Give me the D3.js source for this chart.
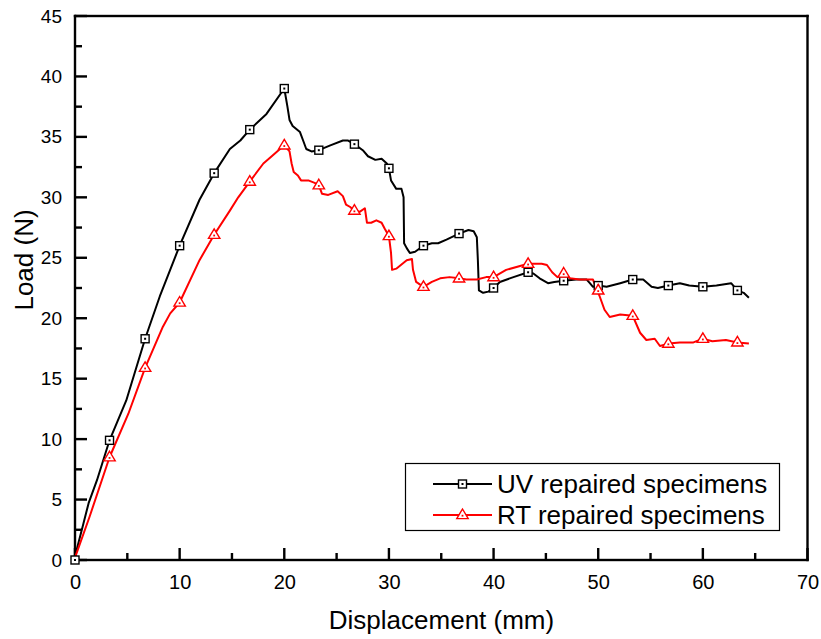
<!DOCTYPE html>
<html>
<head>
<meta charset="utf-8">
<script src="https://cdn.jsdelivr.net/npm/d3@7"></script>
<style>
  body { margin: 0; background: #fff; }
  svg { display: block; font-family: Arial, "Liberation Sans", sans-serif; }
</style>
</head>
<body>
<div id="chart"></div>
<script>
// UV repaired specimens, full curve
const uvX = [0, 0.8, 1.3, 2.1, 3.3, 4.9, 6.7, 8.1, 10.0, 11.9, 13.3, 14.8, 15.8, 16.7, 18.3, 20.0,
  20.3, 20.5, 20.8, 21.5, 21.8, 22.1, 22.6, 23.3, 24.4, 25.6, 26.1, 26.7, 27.5, 28.0, 28.7, 29.3,
  29.8, 30.0, 30.2, 30.7, 31.2, 31.4, 31.45, 31.7, 32.0, 32.5, 33.3, 34.1, 34.7, 35.5, 36.7, 37.6,
  38.1, 38.4, 38.5, 38.6, 39.0, 39.5, 40.0, 40.6, 41.9, 43.3, 43.8, 44.4, 45.2, 45.8, 46.7, 47.9,
  48.9, 49.2, 49.5, 50.0, 50.8, 52.1, 53.3, 54.3, 55.1, 55.7, 56.7, 57.8, 58.7, 60.0, 61.3, 62.7,
  63.3, 63.9, 64.4];
const uvY = [0.3, 3.0, 4.7, 6.6, 9.9, 13.2, 18.3, 21.8, 26.0, 29.8, 32.0, 34.0, 34.7, 35.6, 36.9, 39.0,
  37.5, 36.4, 35.9, 35.4, 34.7, 34.0, 33.8, 33.9, 34.3, 34.7, 34.7, 34.4, 33.9, 33.4, 33.1, 33.2,
  32.8, 32.4, 31.4, 30.7, 30.7, 30.0, 26.2, 25.8, 25.4, 25.5, 26.0, 26.2, 26.2, 26.5, 27.0, 27.3,
  27.2, 26.7, 24.8, 22.3, 22.1, 22.2, 22.5, 23.0, 23.4, 23.8, 23.7, 23.3, 22.9, 23.0, 23.1, 23.2,
  23.2, 22.9, 22.6, 22.7, 22.6, 22.9, 23.2, 23.2, 22.6, 22.5, 22.7, 22.9, 22.7, 22.6, 22.7, 22.9,
  22.3, 22.1, 21.7];

// RT repaired specimens, full curve
const rtX = [0, 1.4, 3.3, 5.1, 6.7, 8.4, 9.1, 10.0, 11.9, 13.3, 14.8, 15.6, 16.7, 18.0, 18.8, 20.0,
  20.5, 20.7, 20.9, 21.3, 21.6, 22.3, 22.9, 23.3, 23.6, 24.2, 25.1, 25.6, 25.9, 26.3, 26.7, 27.2,
  27.7, 27.9, 28.3, 28.8, 29.3, 29.6, 30.0, 30.2, 30.3, 30.7, 31.7, 32.2, 32.3, 32.6, 33.3, 34.1,
  34.9, 35.8, 36.7, 37.4, 38.4, 39.3, 40.0, 41.2, 43.3, 44.6, 45.1, 45.6, 46.1, 46.7, 47.3, 48.2,
  49.5, 49.9, 50.1, 50.6, 51.1, 52.1, 53.3, 54.0, 54.6, 55.4, 55.9, 56.7, 57.8, 59.1, 60.0, 60.9,
  62.2, 63.3, 64.4];
const rtY = [0.2, 3.6, 8.5, 12.1, 15.9, 19.3, 20.4, 21.3, 24.8, 26.9, 28.9, 30.0, 31.3, 32.8, 33.4, 34.3,
  33.8, 32.8, 32.1, 31.8, 31.4, 31.4, 31.2, 31.0, 30.3, 30.2, 30.5, 30.1, 29.4, 29.2, 28.9, 28.8,
  29.1, 27.9, 27.9, 28.1, 27.9, 27.4, 26.8, 25.4, 24.0, 24.1, 24.8, 24.9, 24.0, 23.0, 22.6, 23.0,
  23.3, 23.4, 23.3, 23.2, 23.2, 23.4, 23.4, 24.0, 24.5, 24.5, 24.4, 23.8, 23.4, 23.7, 23.3, 23.2,
  23.2, 22.3, 21.9, 20.7, 20.1, 20.3, 20.2, 18.8, 18.2, 18.3, 17.7, 17.9, 18.0, 18.0, 18.3, 18.1,
  18.2, 18.0, 17.9];

// symbol positions
const markX = [0, 3.3, 6.7, 10, 13.3, 16.7, 20, 23.3, 26.7, 30, 33.3, 36.7, 40, 43.3, 46.7, 50, 53.3, 56.7, 60, 63.3];
const uvMarkY = [0, 9.9, 18.3, 26.0, 32.0, 35.6, 39.0, 33.9, 34.4, 32.4, 26.0, 27.0, 22.5, 23.8, 23.1, 22.7, 23.2, 22.7, 22.6, 22.3];
const rtMarkY = [null, 8.5, 15.9, 21.3, 26.9, 31.3, 34.3, 31.0, 28.9, 26.8, 22.6, 23.3, 23.4, 24.5, 23.7, 22.3, 20.2, 17.9, 18.3, 18.0];

const xTicks = [0, 10, 20, 30, 40, 50, 60, 70];
const yTicks = [0, 5, 10, 15, 20, 25, 30, 35, 40, 45];
const seriesNames = ['UV repaired specimens', 'RT repaired specimens'];

const width = 821, height = 639;
const margin = { left: 75, right: 13.5, top: 16, bottom: 79 };

const svg = d3.select('#chart').append('svg')
  .attr('width', width)
  .attr('height', height);

const x = d3.scaleLinear().domain([0, 70]).range([margin.left, width - margin.right]);
const y = d3.scaleLinear().domain([0, 45]).range([height - margin.bottom, margin.top]);

const zip = (xs, ys) => xs.map((v, i) => [v, ys[i]]);
const line = d3.line().x(d => x(d[0])).y(d => y(d[1]));

// axis labels
const gx = svg.append('g').attr('transform', `translate(0,${y(0)})`)
  .call(d3.axisBottom(x).tickValues(xTicks).tickSize(0).tickPadding(15).tickFormat(d3.format('d')));
gx.select('.domain').remove();
gx.selectAll('.tick text').attr('font-size', 20).attr('fill', '#000');

const gy = svg.append('g').attr('transform', `translate(${x(0)},0)`)
  .call(d3.axisLeft(y).tickValues(yTicks).tickSize(0).tickPadding(13).tickFormat(d3.format('d')));
gy.select('.domain').remove();
gy.selectAll('.tick text').attr('font-size', 19).attr('fill', '#000');

// frame and inward ticks, drawn as solid bars
const lw = 2.4;
const x0 = x(0), x1 = x(70), y0 = y(0), y1 = y(45);
const bars = svg.append('g').attr('fill', '#000');
bars.append('rect').attr('x', x0 - lw / 2).attr('y', y1 - lw / 2).attr('width', x1 - x0 + lw).attr('height', lw);
bars.append('rect').attr('x', x0 - lw / 2).attr('y', y0 - lw / 2).attr('width', x1 - x0 + lw).attr('height', lw);
bars.append('rect').attr('x', x0 - lw / 2).attr('y', y1 - lw / 2).attr('width', lw).attr('height', y0 - y1 + lw);
bars.append('rect').attr('x', x1 - lw / 2).attr('y', y1 - lw / 2).attr('width', lw).attr('height', y0 - y1 + lw);
bars.selectAll('.xt').data(d3.range(0, 71, 5)).join('rect').attr('class', 'xt')
  .attr('x', d => x(d) - lw / 2).attr('width', lw)
  .attr('y', d => y0 - (d % 10 === 0 ? 12 : 7)).attr('height', d => (d % 10 === 0 ? 12 : 7));
bars.selectAll('.yt').data(d3.range(0, 45.1, 2.5)).join('rect').attr('class', 'yt')
  .attr('y', d => y(d) - lw / 2).attr('height', lw)
  .attr('x', x0).attr('width', d => (d % 5 === 0 ? 12 : 7));

// curves
svg.append('path').datum(zip(uvX, uvY))
  .attr('d', line).attr('fill', 'none').attr('stroke', '#000').attr('stroke-width', 2)
  .attr('stroke-linejoin', 'round');
svg.append('path').datum(zip(rtX, rtY))
  .attr('d', line).attr('fill', 'none').attr('stroke', '#ff0000').attr('stroke-width', 2)
  .attr('stroke-linejoin', 'round');

function square(g, cx, cy) {
  g.append('rect').attr('x', cx - 4).attr('y', cy - 4).attr('width', 8).attr('height', 8)
    .attr('fill', '#fff').attr('stroke', '#000').attr('stroke-width', 1.4);
  g.append('rect').attr('x', cx - 1).attr('y', cy - 1).attr('width', 2).attr('height', 2).attr('fill', '#000');
}
function triangle(g, cx, cy) {
  const s = 6;
  g.append('path')
    .attr('d', `M${cx},${cy - s}L${cx + s * 0.95},${cy + s * 0.6}L${cx - s * 0.95},${cy + s * 0.6}Z`)
    .attr('fill', '#fff').attr('stroke', '#ff0000').attr('stroke-width', 1.4);
  g.append('rect').attr('x', cx - 0.9).attr('y', cy - 0.2).attr('width', 1.8).attr('height', 1.8).attr('fill', '#ff0000');
}

const marks = svg.append('g');
zip(markX, uvMarkY).forEach(d => square(marks, x(d[0]), y(d[1])));
zip(markX, rtMarkY).filter(d => d[1] !== null).forEach(d => triangle(marks, x(d[0]), y(d[1])));

// axis titles
svg.append('text')
  .attr('x', 441.5).attr('y', 629)
  .attr('text-anchor', 'middle').attr('font-size', 26)
  .text('Displacement (mm)');
svg.append('text')
  .attr('transform', `translate(33,260) rotate(-90)`)
  .attr('text-anchor', 'middle').attr('font-size', 26)
  .text('Load (N)');

// legend
const lg = svg.append('g');
lg.append('rect').attr('x', 405.5).attr('y', 463.5).attr('width', 374).attr('height', 67)
  .attr('fill', '#fff').attr('stroke', '#000').attr('stroke-width', 1.2);
const rows = [{ name: seriesNames[0], color: '#000', cy: 484, mark: square },
              { name: seriesNames[1], color: '#ff0000', cy: 515, mark: triangle }];
rows.forEach(r => {
  lg.append('line').attr('x1', 433).attr('x2', 492).attr('y1', r.cy).attr('y2', r.cy)
    .attr('stroke', r.color).attr('stroke-width', 2);
  r.mark(lg, 462.5, r.cy);
  lg.append('text').attr('x', 497).attr('y', r.cy + 9).attr('font-size', 26).attr('fill', '#000')
    .text(r.name);
});
</script>
</body>
</html>
